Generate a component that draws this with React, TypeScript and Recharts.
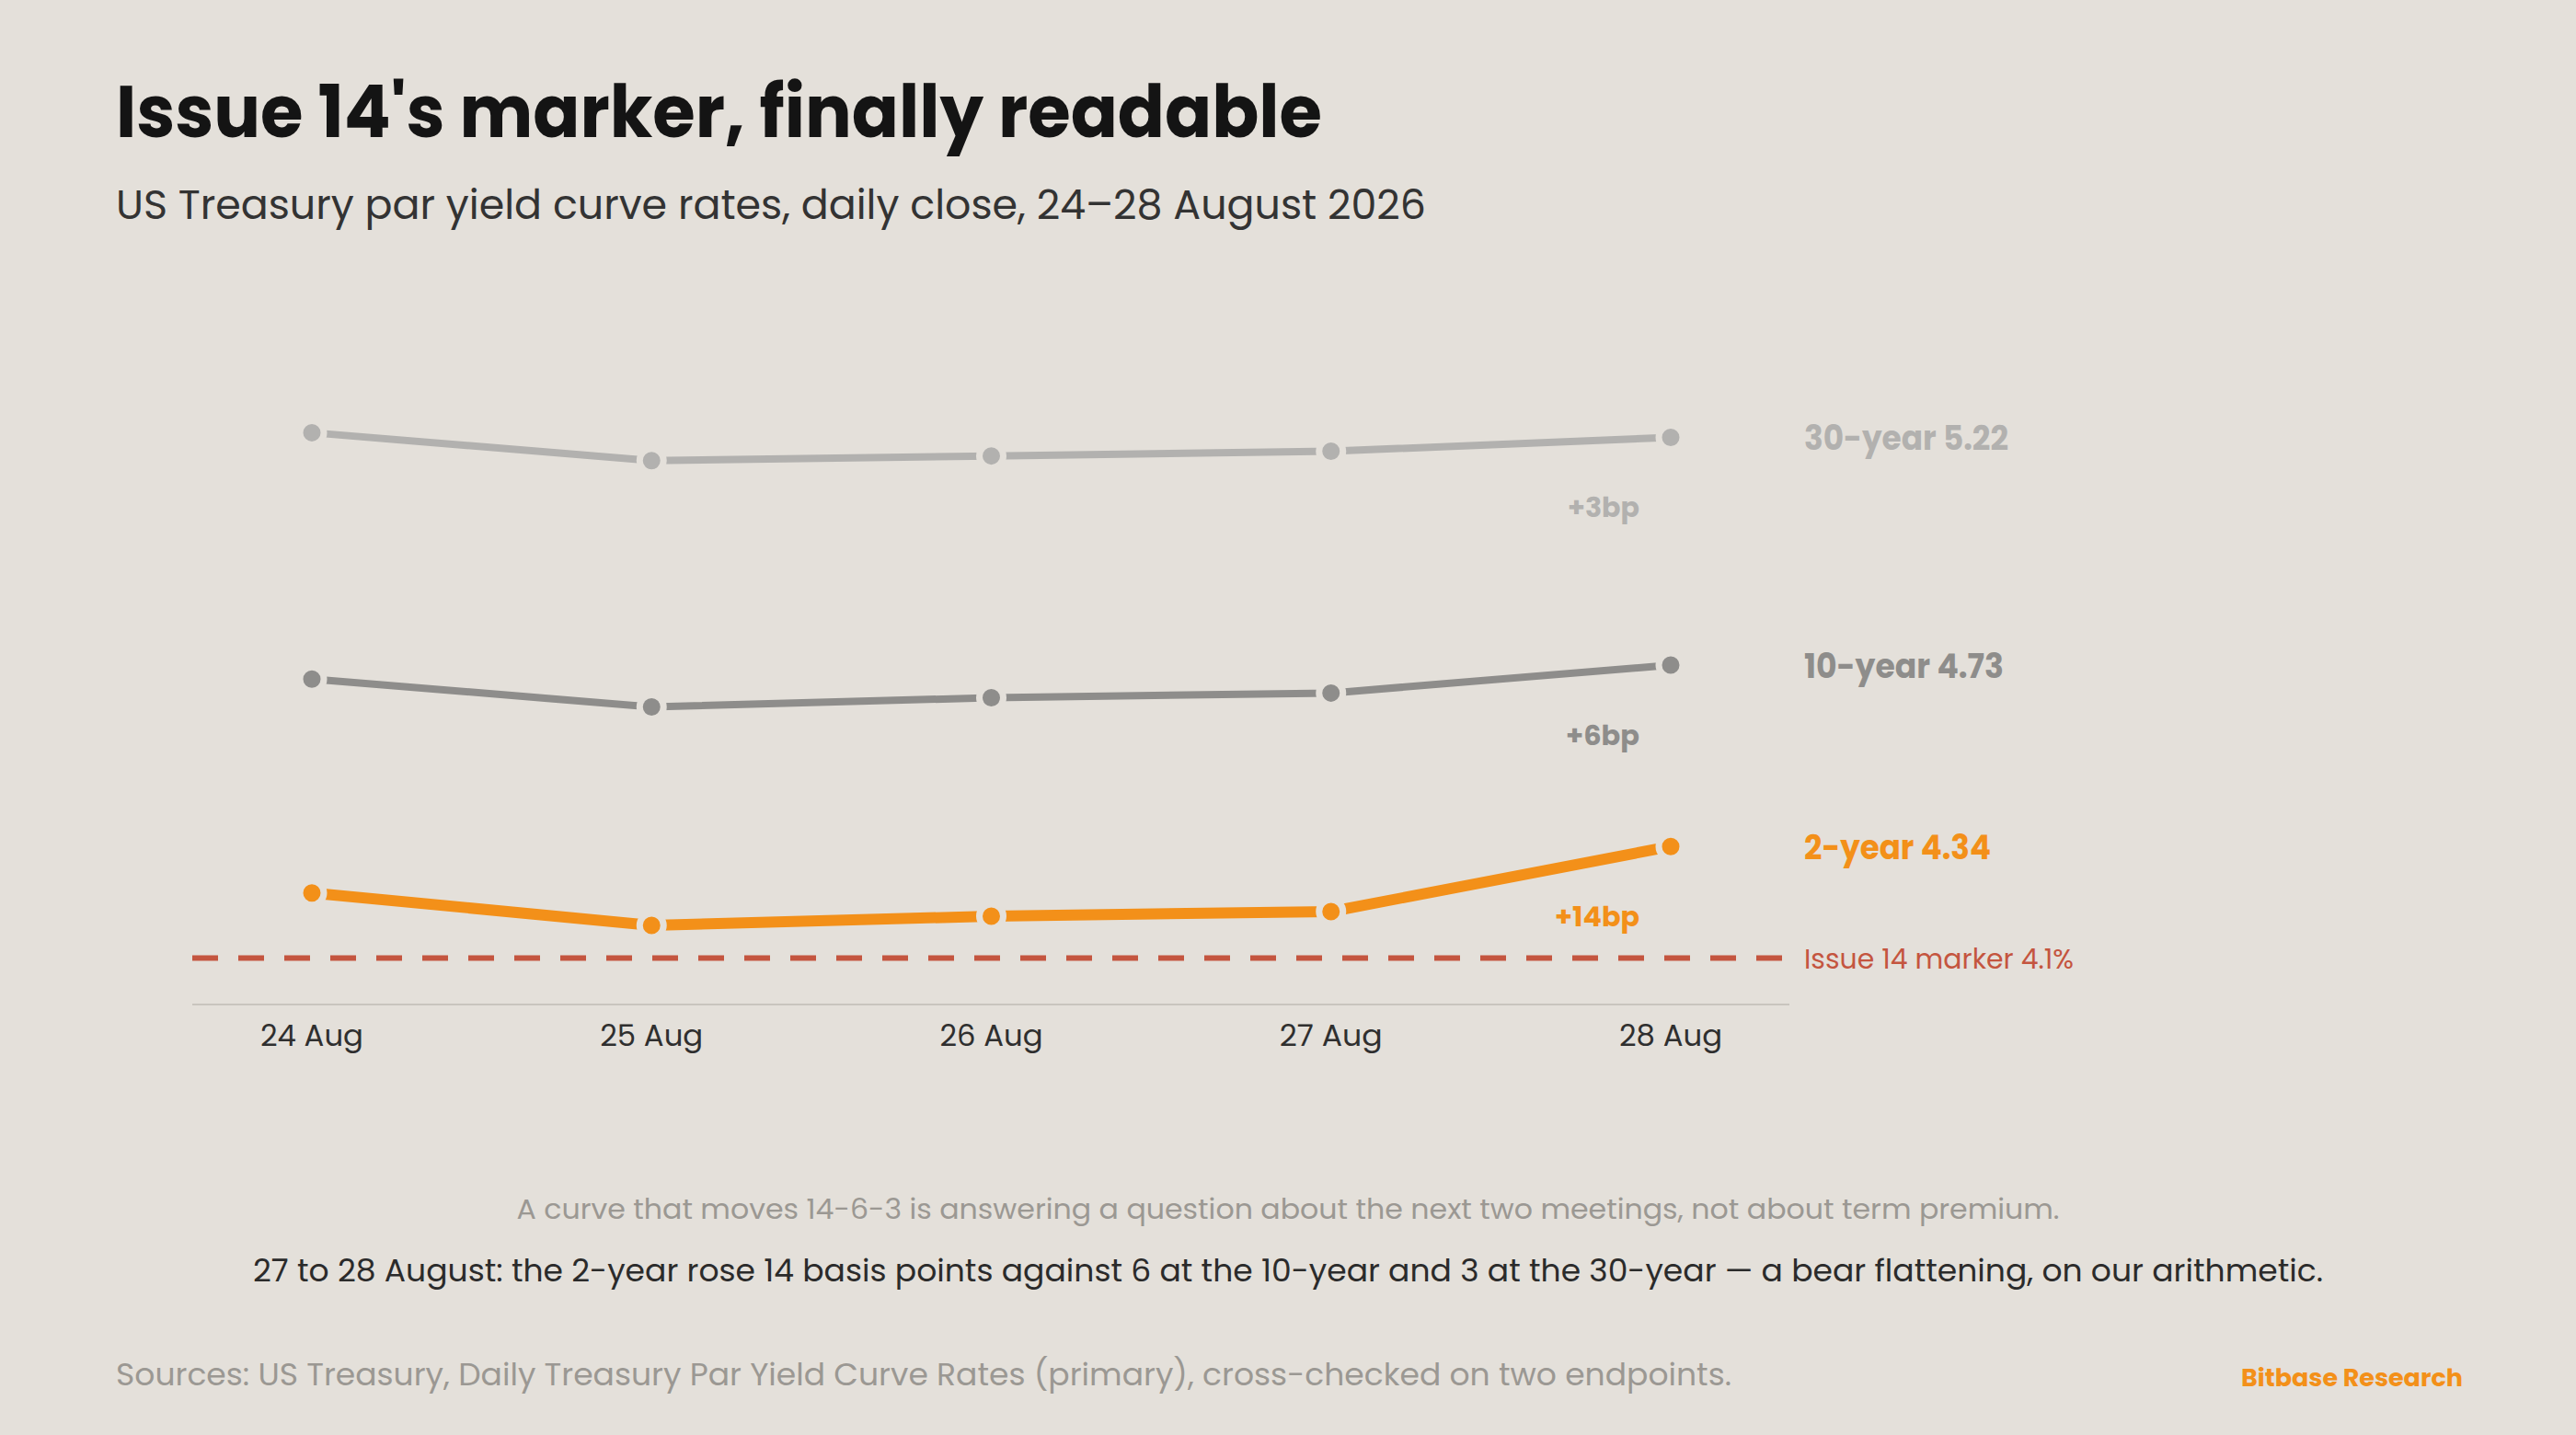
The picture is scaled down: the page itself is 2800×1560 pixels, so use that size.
import React from 'react';
import { LineChart, Line, XAxis, YAxis, ReferenceLine } from 'recharts';

const categories = ['24 Aug', '25 Aug', '26 Aug', '27 Aug', '28 Aug'];
const twoYear = [4.24, 4.17, 4.19, 4.2, 4.34];
const tenYear = [4.7, 4.64, 4.66, 4.67, 4.73];
const thirtyYear = [5.23, 5.17, 5.18, 5.19, 5.22];
const markerValue = 4.1;
const seriesNames = ['30-year', '10-year', '2-year'];

const BG = '#e4e0da';
const C30 = '#b2b1af';
const C10 = '#8e8d8b';
const C2 = '#f39019';
const RED = '#c4553f';
const FONT = 'Poppins, Inter, "Noto Sans", sans-serif';

const data = categories.map((c, i) => ({ day: c, y2: twoYear[i], y10: tenYear[i], y30: thirtyYear[i] }));

const Tick = (props: any) => {
  const { x, y, payload } = props;
  return (
    <text x={x} y={y + 45} textAnchor="middle" fill="#2f2f2f" fontSize={32} fontFamily={FONT}
      textLength={112} lengthAdjust="spacingAndGlyphs">
      {payload.value}
    </text>
  );
};

const makeEndLabel = (name: string, values: number[], color: string, nameWidth: number, deltaWidth: number) => (p: any) => {
  const { x, y, index } = p;
  if (index !== values.length - 1) return null;
  const last = values[index];
  const delta = Math.round((last - values[index - 1]) * 100);
  return (
    <g>
      <text x={x + 145} y={y + 14} fill={color} fontSize={36} fontWeight={700} fontFamily={FONT}
        textLength={nameWidth} lengthAdjust="spacingAndGlyphs">
        {`${name} ${last.toFixed(2)}`}
      </text>
      <text x={x - 34} y={y + 87} textAnchor="end" fill={color} fontSize={30} fontWeight={700} fontFamily={FONT}
        textLength={deltaWidth} lengthAdjust="spacingAndGlyphs">
        {`+${delta}bp`}
      </text>
    </g>
  );
};

const MarkerLabel = (p: any) => {
  const vb = p.viewBox || {};
  return (
    <text x={vb.x + vb.width + 16} y={vb.y + 12} fill={RED} fontSize={30} fontFamily={FONT}
      textLength={293} lengthAdjust="spacingAndGlyphs">
      {`Issue 14 marker ${markerValue}%`}
    </text>
  );
};

export default function App() {
  return (
    <div style={{ position: 'absolute', left: 0, top: 0, width: 2800, height: 1560, background: BG, overflow: 'hidden' }}>
      <div style={{ position: 'absolute', left: 0, top: 0 }}>
        <LineChart width={2800} height={1200} data={data} margin={{ top: 435, right: 855, bottom: 48, left: 209 }}>
          <XAxis dataKey="day" padding={{ left: 130, right: 129 }} axisLine={{ stroke: '#c9c5be', strokeWidth: 2 }}
            tickLine={false} tickSize={0} tickMargin={0} tick={<Tick />} height={60} interval={0} />
          <YAxis hide domain={[4.0, 5.3]} />
          <ReferenceLine y={markerValue} stroke={RED} strokeWidth={6} strokeDasharray="28 22" label={<MarkerLabel />} />
          <Line dataKey="y30" stroke={C30} strokeWidth={8} isAnimationActive={false}
            dot={{ r: 13, fill: C30, stroke: BG, strokeWidth: 7 }} activeDot={false}
            label={makeEndLabel(seriesNames[0], thirtyYear, C30, 222, 78)} />
          <Line dataKey="y10" stroke={C10} strokeWidth={8} isAnimationActive={false}
            dot={{ r: 13, fill: C10, stroke: BG, strokeWidth: 7 }} activeDot={false}
            label={makeEndLabel(seriesNames[1], tenYear, C10, 217, 80)} />
          <Line dataKey="y2" stroke={C2} strokeWidth={12} isAnimationActive={false}
            dot={{ r: 13, fill: C2, stroke: BG, strokeWidth: 7 }} activeDot={false}
            label={makeEndLabel(seriesNames[2], twoYear, C2, 203, 92)} />
        </LineChart>
      </div>
      <svg width={2800} height={1560} style={{ position: 'absolute', left: 0, top: 0, pointerEvents: 'none' }}>
        <text x={126} y={149} fill="#141414" fontSize={79} fontWeight={700} fontFamily={FONT}
          textLength={1311} lengthAdjust="spacingAndGlyphs">Issue 14's marker, finally readable</text>
        <text x={126} y={238} fill="#333333" fontSize={44} fontFamily={FONT}
          textLength={1424} lengthAdjust="spacingAndGlyphs">US Treasury par yield curve rates, daily close, 24–28 August 2026</text>
        <text x={1400} y={1325} textAnchor="middle" fill="#9b9893" fontSize={31} fontFamily={FONT}
          textLength={1677} lengthAdjust="spacingAndGlyphs">A curve that moves 14-6-3 is answering a question about the next two meetings, not about term premium.</text>
        <text x={1400} y={1393} textAnchor="middle" fill="#2b2b2b" fontSize={33} fontFamily={FONT}
          textLength={2250} lengthAdjust="spacingAndGlyphs">27 to 28 August: the 2-year rose 14 basis points against 6 at the 10-year and 3 at the 30-year — a bear flattening, on our arithmetic.</text>
        <text x={126} y={1506} fill="#9b9893" fontSize={33} fontFamily={FONT}
          textLength={1756} lengthAdjust="spacingAndGlyphs">Sources: US Treasury, Daily Treasury Par Yield Curve Rates (primary), cross-checked on two endpoints.</text>
        <text x={2677} y={1507} textAnchor="end" fill={C2} fontSize={27} fontWeight={700} fontFamily={FONT}
          textLength={241} lengthAdjust="spacingAndGlyphs">Bitbase Research</text>
      </svg>
    </div>
  );
}
